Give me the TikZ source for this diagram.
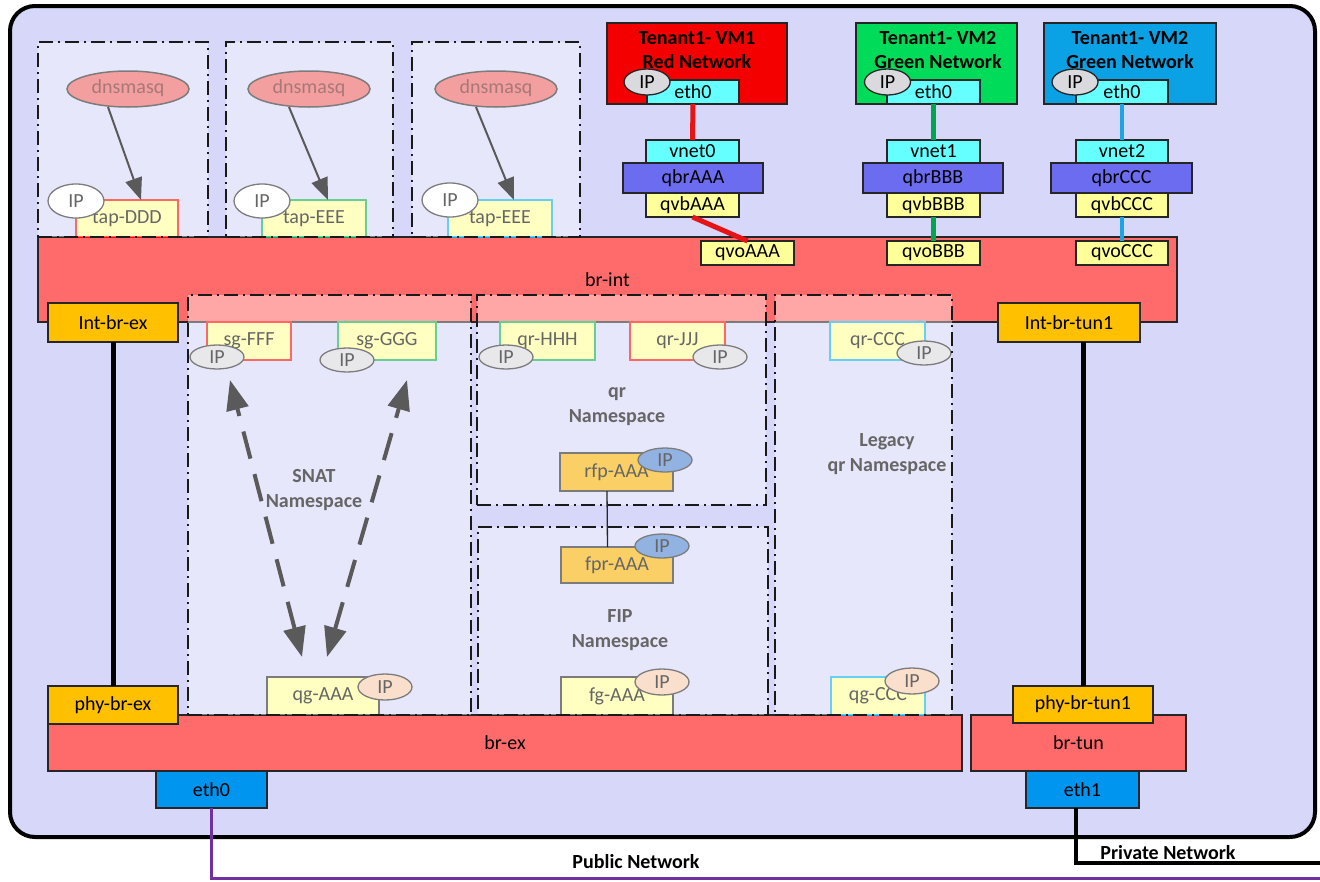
\documentclass[tikz,border=0pt]{standalone}
\usepackage{fontspec}
\setmainfont{Carlito}
\usetikzlibrary{arrows.meta,shapes.geometric}

% palette
\definecolor{hostbg}{RGB}{215,215,250}
\definecolor{bridgered}{RGB}{255,107,107}
\definecolor{portorange}{RGB}{255,192,0}
\definecolor{rfporange}{RGB}{245,176,0}
\definecolor{vethyellow}{RGB}{255,255,153}
\definecolor{tapcyan}{RGB}{102,255,255}
\definecolor{qbrblue}{RGB}{108,108,240}
\definecolor{nicblue}{RGB}{0,150,240}
\definecolor{vmred}{RGB}{245,0,0}
\definecolor{vmgreen}{RGB}{0,220,90}
\definecolor{vmblue}{RGB}{10,162,228}
\definecolor{ipgray}{RGB}{218,218,222}
\definecolor{ippeach}{RGB}{248,203,173}
\definecolor{ipblue}{RGB}{74,128,208}
\definecolor{dnsfill}{RGB}{235,95,95}
\definecolor{dnstext}{RGB}{110,30,30}
\definecolor{edgedark}{RGB}{38,38,38}
\definecolor{linkred}{RGB}{230,20,20}
\definecolor{linkgreen}{RGB}{0,165,80}
\definecolor{linkblue}{RGB}{30,165,225}
\definecolor{pubpurple}{RGB}{112,48,160}
\definecolor{arrowgray}{RGB}{90,90,90}
\definecolor{bordred}{RGB}{255,0,0}
\definecolor{bordgreen}{RGB}{0,176,80}
\definecolor{bordcyan}{RGB}{0,176,240}

\tikzset{
  every node/.style={font=\fontsize{20}{24}\selectfont, inner sep=0pt, outer sep=0pt},
  host/.style={draw=black, line width=4pt, rounded corners=25pt, fill=hostbg},
  box/.style={rectangle, draw=edgedark, line width=1.5pt},
  bridge/.style={box, fill=bridgered},
  port/.style={box, fill=portorange},
  veth/.style={box, fill=vethyellow},
  tapif/.style={box, fill=tapcyan},
  qbr/.style={box, fill=qbrblue},
  nic/.style={box, fill=nicblue},
  nsif/.style={rectangle, line width=2pt, fill=vethyellow},
  rfpbox/.style={box, fill=rfporange},
  ip/.style={ellipse, draw=edgedark, line width=1.3pt, fill=ipgray,
             text height=12pt, text depth=0pt},
  dnsm/.style={ellipse, draw=edgedark, line width=1.5pt, fill=dnsfill,
               text=dnstext, minimum width=122pt, minimum height=36pt,
               text height=12pt, text depth=3pt},
  vmtext/.style={align=center, font=\bfseries\fontsize{20}{24}\selectfont},
  nslabel/.style={align=center, font=\bfseries\fontsize{20}{25}\selectfont},
  nsbox/.style={rectangle, draw=black!90, line width=1.8pt,
                dash pattern=on 14pt off 5pt on 2pt off 5pt,
                fill=white, fill opacity=0.4},
  netlabel/.style={font=\bfseries\fontsize{20}{24}\selectfont},
  redlink/.style={draw=linkred, line width=5pt},
  greenlink/.style={draw=linkgreen, line width=4.5pt},
  bluelink/.style={draw=linkblue, line width=4.5pt},
  trunk/.style={draw=black, line width=5pt},
  publink/.style={draw=pubpurple, line width=3pt},
  privlink/.style={draw=black, line width=4pt},
  thinlink/.style={draw=edgedark, line width=1.3pt},
  dnsarrow/.style={draw=arrowgray, line width=2pt, -{Triangle[length=22pt,width=17pt]}},
  snatarrow/.style={draw=arrowgray, line width=4pt, dash pattern=on 28pt off 16pt,
                    {Triangle[length=30pt,width=22pt]}-{Triangle[length=30pt,width=22pt]}},
}

\begin{document}
\begin{tikzpicture}[x=1pt,y=-1pt]
\useasboundingbox (0,0) rectangle (1320,881);

% compute host
\node[host, minimum width=1305pt, minimum height=831pt] (host) at (662.5,421.5) {};

% OVS bridges
\node[bridge, minimum width=1139pt, minimum height=85pt] (brint) at (607.5,279.5) {br-int};
\node[bridge, minimum width=914pt, minimum height=56pt] (brex) at (505,743) {br-ex};
\node[bridge, minimum width=215pt, minimum height=56pt] (brtun) at (1078.5,743) {br-tun};

% DHCP namespaces: dnsmasq and tap ports
\node[dnsm] (dnsm1) at (128,89) {dnsmasq};
\node[dnsm] (dnsm2) at (309,89) {dnsmasq};
\node[dnsm] (dnsm3) at (496,89) {dnsmasq};
\node[nsif, draw=bordred, minimum width=102pt, minimum height=37pt] (tapD) at (127,218.5) {tap-DDD};
\node[nsif, draw=bordgreen, minimum width=104pt, minimum height=37pt] (tapE1) at (314,218.5) {tap-EEE};
\node[nsif, draw=bordcyan, minimum width=104pt, minimum height=37pt] (tapE2) at (500,218.5) {tap-EEE};
\node[ip, fill=white, minimum width=56pt, minimum height=34pt] (iptapD) at (76,201) {IP};
\node[ip, fill=white, minimum width=56pt, minimum height=34pt] (iptapE1) at (262,201) {IP};
\node[ip, fill=white, minimum width=56pt, minimum height=34pt] (iptapE2) at (450,200) {IP};

% SNAT namespace contents
\node[nsif, draw=bordred, minimum width=84pt, minimum height=38pt] (sgF) at (249,341) {sg-FFF};
\node[nsif, draw=bordgreen, minimum width=98pt, minimum height=38pt] (sgG) at (387,341) {sg-GGG};
\node[ip, minimum width=54pt, minimum height=24pt] (ipsgF) at (217,357) {IP};
\node[ip, minimum width=54pt, minimum height=24pt] (ipsgG) at (347,360) {IP};
\node[nslabel] (snatlbl) at (314,490) {SNAT\\Namespace};
\node[nsif, draw=edgedark, line width=1.5pt, minimum width=112pt, minimum height=38pt] (qgA) at (323,696) {qg-AAA};
\node[ip, fill=ippeach, minimum width=54pt, minimum height=26pt] (ipqgA) at (385,687) {IP};

% router namespace contents
\node[nsif, draw=bordgreen, minimum width=95pt, minimum height=38pt] (qrH) at (547.5,341) {qr-HHH};
\node[nsif, draw=bordred, minimum width=95pt, minimum height=38pt] (qrJ) at (677.5,341) {qr-JJJ};
\node[ip, minimum width=54pt, minimum height=24pt] (ipqrH) at (506,357) {IP};
\node[ip, minimum width=54pt, minimum height=24pt] (ipqrJ) at (720,357) {IP};
\node[nslabel] (qrlbl) at (617,407) {qr\\Namespace};
\node[rfpbox, minimum width=113pt, minimum height=38pt] (rfp) at (616.5,472) {rfp-AAA};
\node[ip, fill=ipblue, minimum width=54pt, minimum height=24pt] (iprfp) at (665,460) {IP};

% FIP namespace contents
\node[rfpbox, minimum width=112pt, minimum height=36pt] (fpr) at (617,565) {fpr-AAA};
\node[ip, fill=ipblue, minimum width=54pt, minimum height=24pt] (ipfpr) at (662,546) {IP};
\node[nslabel] (fiplbl) at (620,630) {FIP\\Namespace};
\node[nsif, draw=edgedark, line width=1.5pt, minimum width=112pt, minimum height=38pt] (fg) at (617,696) {fg-AAA};
\node[ip, fill=ippeach, minimum width=54pt, minimum height=26pt] (ipfg) at (662,682) {IP};

% legacy router namespace contents
\node[nsif, draw=bordcyan, minimum width=95pt, minimum height=38pt] (qrC) at (877.5,341) {qr-CCC};
\node[ip, minimum width=54pt, minimum height=24pt] (ipqrC) at (924,353) {IP};
\node[nslabel] (leglbl) at (887,454) {Legacy\\qr Namespace};
\node[nsif, draw=bordcyan, minimum width=94pt, minimum height=38pt] (qgC) at (878,696) {qg-CCC};
\node[ip, fill=ippeach, minimum width=54pt, minimum height=26pt] (ipqgC) at (912,681) {IP};

% namespace outlines (translucent)
\node[nsbox, minimum width=170pt, minimum height=195pt] (dns1) at (123,139.5) {};
\node[nsbox, minimum width=167pt, minimum height=195pt] (dns2) at (309.5,139.5) {};
\node[nsbox, minimum width=168pt, minimum height=195pt] (dns3) at (496,139.5) {};
\node[nsbox, minimum width=283pt, minimum height=420pt] (snatns) at (329.5,505) {};
\node[nsbox, minimum width=289pt, minimum height=210pt] (qrns) at (621.5,400) {};
\node[nsbox, minimum width=290pt, minimum height=188pt] (fipns) at (623,621) {};
\node[nsbox, minimum width=177pt, minimum height=420pt] (legns) at (863.5,505) {};

% dnsmasq serves its tap port
\draw[dnsarrow] ([xshift=-20pt]dnsm1.south) -- ([xshift=14pt]tapD.north);
\draw[dnsarrow] ([xshift=-20pt]dnsm2.south) -- ([xshift=14pt]tapE1.north);
\draw[dnsarrow] ([xshift=-20pt]dnsm3.south) -- ([xshift=14pt]tapE2.north);

% SNAT traffic between the sg ports and the gateway port
\coordinate (snatlo1) at (302,657);
\coordinate (snathi1) at (230,380);
\coordinate (snatlo2) at (327,657);
\coordinate (snathi2) at (407,380);
\draw[snatarrow] (snatlo1) -- (snathi1);
\draw[snatarrow] (snatlo2) -- (snathi2);

% rfp / fpr veth pair
\draw[thinlink] ([xshift=-9.5pt]rfp.south) -- ([xshift=-9.5pt]fpr.north);

% patch ports
\node[port, minimum width=130pt, minimum height=39pt] (intbrex) at (113,322.5) {Int-br-ex};
\node[port, minimum width=142pt, minimum height=39pt] (intbrtun) at (1069,322.5) {Int-br-tun1};
\node[port, minimum width=130pt, minimum height=38pt] (phybrex) at (113,705) {phy-br-ex};
\node[port, minimum width=140pt, minimum height=37pt] (phybrtun) at (1083,704.5) {phy-br-tun1};
\draw[trunk] (intbrex.south) -- (phybrex.north);
\draw[trunk] (phybrtun.north |- intbrtun.south) -- (phybrtun.north);

% physical NICs
\node[nic, minimum width=111pt, minimum height=37pt] (eth0p) at (211.5,789.5) {eth0};
\node[nic, minimum width=113pt, minimum height=37pt] (eth1p) at (1082.5,789.5) {eth1};

% VM 1
\node[box, fill=vmred, minimum width=180pt, minimum height=81pt] (vm1) at (697,63.5) {};
\node[vmtext] (vm1t) at (697,50) {Tenant1- VM1\\Red Network};
\node[tapif, minimum width=92pt, minimum height=24pt] (vm1eth) at (693,92) {eth0};
\node[ip, minimum width=46pt, minimum height=26pt] (vm1ip) at (647,82) {IP};
\node[tapif, minimum width=93pt, minimum height=23pt] (vnet0) at (692.5,151.5) {vnet0};
\node[qbr, minimum width=140pt, minimum height=30pt] (qbrA) at (693,178) {qbrAAA};
\node[veth, minimum width=93pt, minimum height=24pt] (qvbA) at (692.5,205) {qvbAAA};
\node[veth, minimum width=93pt, minimum height=24pt] (qvoA) at (747.5,253) {qvoAAA};

% VM 2
\node[box, fill=vmgreen, minimum width=161pt, minimum height=81pt] (vm2) at (936.5,63.5) {};
\node[vmtext] (vm2t) at (938,50) {Tenant1- VM2\\Green Network};
\node[tapif, minimum width=93pt, minimum height=24pt] (vm2eth) at (933.5,92) {eth0};
\node[ip, minimum width=46pt, minimum height=26pt] (vm2ip) at (887.5,82) {IP};
\node[tapif, minimum width=93pt, minimum height=23pt] (vnet1) at (933.5,151.5) {vnet1};
\node[qbr, minimum width=140pt, minimum height=30pt] (qbrB) at (933,178) {qbrBBB};
\node[veth, minimum width=93pt, minimum height=24pt] (qvbB) at (933.5,205) {qvbBBB};
\node[veth, minimum width=93pt, minimum height=24pt] (qvoB) at (933.5,253) {qvoBBB};

% VM 3
\node[box, fill=vmblue, minimum width=172pt, minimum height=81pt] (vm3) at (1130,63.5) {};
\node[vmtext] (vm3t) at (1130,50) {Tenant1- VM2\\Green Network};
\node[tapif, minimum width=92pt, minimum height=24pt] (vm3eth) at (1122,92) {eth0};
\node[ip, minimum width=46pt, minimum height=26pt] (vm3ip) at (1075,82) {IP};
\node[tapif, minimum width=92pt, minimum height=23pt] (vnet2) at (1122,151.5) {vnet2};
\node[qbr, minimum width=141pt, minimum height=30pt] (qbrC) at (1121.5,178) {qbrCCC};
\node[veth, minimum width=92pt, minimum height=24pt] (qvbC) at (1122,205) {qvbCCC};
\node[veth, minimum width=92pt, minimum height=24pt] (qvoC) at (1122,253) {qvoCCC};

% VM links
\draw[redlink] (vm1eth.south) -- (vnet0.north);
\draw[redlink] (qvbA.south) -- (qvoA.north);
\draw[greenlink] (vm2eth.south) -- (vnet1.north);
\draw[greenlink] (qvbB.south) -- (qvoB.north);
\draw[bluelink] (vm3eth.south) -- (vnet2.north);
\draw[bluelink] (qvbC.south) -- (qvoC.north);

% external networks
\coordinate (pubend) at (1320,878);
\coordinate (privend) at (1320,863);
\draw[publink] (eth0p.south) -- (eth0p.south |- pubend) -- (pubend);
\draw[privlink] ([xshift=-7pt]eth1p.south) -- ([xshift=-7pt]eth1p.south |- privend) -- (privend);
\node[netlabel] (publbl) at (636,862) {Public Network};
\node[netlabel] (privlbl) at (1168,853) {Private Network};

\end{tikzpicture}
\end{document}
